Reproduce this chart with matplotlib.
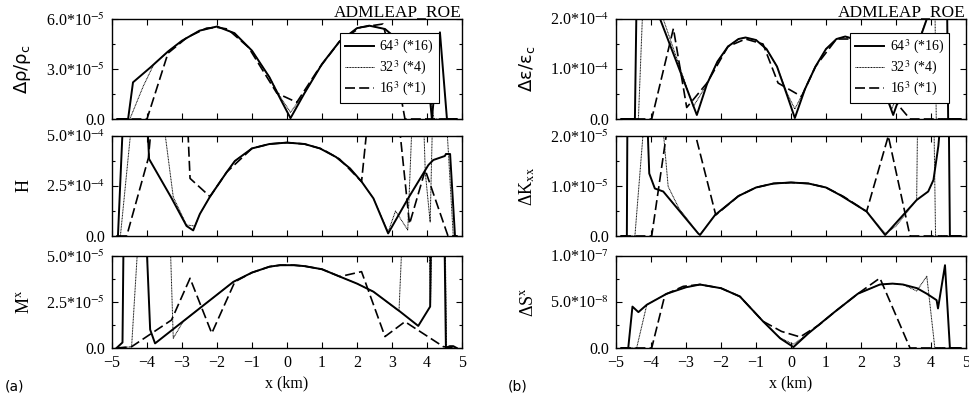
import numpy as np
import matplotlib
matplotlib.use('Agg')
import matplotlib.pyplot as plt
from matplotlib.ticker import FixedLocator

plt.rcParams['font.family'] = ['Liberation Serif', 'DejaVu Serif']
plt.rcParams['mathtext.fontset'] = 'stix'

# ---------------- data (x in km, y in panel units) ----------------
# Panel (a1): delta rho / rho_c  [1e-5]
rho64_x = [-4.85, -4.54, -4.40, -3.90, -3.40, -3.00, -2.50, -2.00, -1.50, -1.00, -0.50, -0.20, 0.10, 0.50, 1.00, 1.50, 2.00, 2.35, 2.80, 3.20, 3.60, 4.05, 4.14, 4.37, 4.57, 4.85]
rho64_y = [0, 0, 2.2, 3.1, 4.05, 4.7, 5.3, 5.55, 5.15, 4.1, 2.5, 1.25, 0.05, 1.55, 3.3, 4.65, 5.45, 5.6, 5.4, 4.7, 3.7, 2.0, 0, 5.2, 0, 0]
rho32_x = [-4.85, -4.49, -4.10, -3.80, -3.40, -3.00, -2.50, -2.00, -1.50, -1.00, -0.50, -0.20, 0.10, 0.50, 1.00, 1.50, 2.00, 2.35, 2.80, 3.20, 3.60, 4.00, 4.20, 4.85]
rho32_y = [0, 0, 2.0, 3.3, 4.05, 4.7, 5.3, 5.55, 5.15, 4.1, 2.5, 1.35, 0.4, 1.55, 3.3, 4.65, 5.45, 5.6, 5.4, 4.7, 3.7, 2.3, 0, 0]
rho16_x = [-4.85, -4.00, -3.40, -2.85, -2.30, -2.00, -1.70, -1.10, -0.29, 0.28, 0.90, 1.50, 2.10, 2.74, 3.20, 3.37, 4.85]
rho16_y = [0, 0, 3.95, 4.9, 5.45, 5.5, 5.4, 4.3, 1.55, 1.0, 3.0, 4.65, 5.5, 5.7, 2.0, 0, 0]

# Panel (a2): H  [1e-4]
h64_x = [-4.85, -4.83, -4.68, -4.00, -3.94, -3.30, -2.87, -2.68, -2.49, -2.20, -1.72, -1.49, -1.00, -0.50, 0.00, 0.50, 0.94, 1.40, 1.80, 2.13, 2.47, 2.89, 3.45, 4.04, 4.18, 4.51, 4.54, 4.66, 4.80, 4.85]
h64_y = [0, 0, 6, 6, 3.85, 1.9, 0.5, 0.28, 1.1, 1.97, 3.2, 3.75, 4.38, 4.6, 4.67, 4.6, 4.38, 3.95, 3.38, 2.72, 1.88, 0.13, 1.85, 3.55, 3.8, 4.0, 4.1, 4.1, 0, 0]
h32_x = [-4.85, -4.76, -4.42, -3.55, -3.25, -2.87, -2.63, -2.49, -2.20, -1.72, -1.49, -1.00, -0.50, 0.00, 0.50, 0.94, 1.40, 1.80, 2.13, 2.47, 2.89, 3.10, 3.45, 3.58, 3.90, 3.95, 4.09, 4.16, 4.55, 4.75, 4.85]
h32_y = [0, 0, 6, 6, 1.95, 0.55, 0.5, 1.1, 1.97, 3.2, 3.75, 4.38, 4.6, 4.67, 4.6, 4.38, 3.95, 3.38, 2.72, 1.88, 0.2, 1.25, 0.3, 6, 6, 3.2, 0.7, 6, 6, 0, 0]
h16_x = [-4.85, -4.58, -3.96, -3.85, -2.85, -2.77, -2.20, -1.72, -1.00, -0.50, 0.00, 0.50, 1.00, 1.50, 2.13, 2.32, 3.18, 3.50, 3.95, 4.60, 4.85]
h16_y = [0, 0, 3.9, 6, 6, 2.88, 1.97, 3.2, 4.38, 4.6, 4.67, 4.6, 4.35, 3.85, 2.72, 6, 6, 0.6, 3.3, 0, 0]

# Panel (a3): M^x  [1e-5]
m64_x = [-4.87, -4.70, -4.67, -4.02, -3.91, -3.77, -1.53, -1.00, -0.50, -0.20, 0.20, 0.50, 1.00, 1.51, 2.00, 2.47, 3.23, 3.75, 4.09, 4.11, 4.50, 4.54, 4.65, 4.75, 4.85]
m64_y = [0, 0.3, 6, 6, 1.0, 0.25, 3.6, 4.1, 4.42, 4.5, 4.5, 4.45, 4.28, 3.88, 3.5, 3.06, 1.98, 1.2, 2.25, 6, 6, 0, 0.1, 0.1, 0]
m32_x = [-4.87, -4.44, -4.25, -3.34, -3.25, -2.96, -1.53, -1.00, -0.50, -0.20, 0.20, 0.50, 1.00, 1.51, 2.00, 2.47, 3.20, 3.29, 4.06, 4.10, 4.14, 4.52, 4.56, 4.85]
m32_y = [0, 0.07, 6, 6, 0.53, 1.46, 3.6, 4.1, 4.42, 4.5, 4.5, 4.45, 4.28, 3.88, 3.5, 3.06, 2.0, 6, 6, 2.3, 6, 6, 0, 0]
m16_x = [-4.87, -4.44, -3.30, -2.77, -2.15, -1.49, -1.00, -0.50, -0.20, 0.20, 0.50, 1.00, 1.51, 2.13, 2.80, 3.37, 4.47, 4.85]
m16_y = [0, 0.07, 1.52, 3.79, 0.8, 3.6, 4.1, 4.42, 4.5, 4.5, 4.45, 4.28, 3.88, 4.15, 0.62, 1.43, 0.07, 0]

# Panel (b1): delta eps / eps_c  [1e-4]
e64_x = [-4.85, -4.46, -4.41, -3.80, -3.74, -2.69, -2.40, -2.10, -1.80, -1.50, -1.30, -1.00, -0.70, -0.40, -0.10, 0.11, 0.40, 0.70, 1.00, 1.30, 1.55, 1.80, 2.10, 2.40, 2.70, 2.92, 3.88, 3.95, 4.45, 4.49, 4.85]
e64_y = [0, 0, 2.5, 2.5, 2.0, 0.08, 0.7, 1.15, 1.45, 1.6, 1.63, 1.58, 1.4, 1.05, 0.45, 0.02, 0.6, 1.05, 1.4, 1.6, 1.65, 1.6, 1.4, 1.05, 0.5, 0.08, 2.0, 3.0, 3.0, 0, 0]
e32_x = [-4.85, -4.36, -4.22, -3.75, -3.70, -2.79, -2.40, -2.10, -1.80, -1.50, -1.30, -1.00, -0.70, -0.40, -0.10, 0.11, 0.40, 0.70, 1.00, 1.30, 1.55, 1.80, 2.10, 2.40, 2.70, 2.88, 3.88, 3.95, 4.10, 4.15, 4.85]
e32_y = [0, 0, 2.5, 2.5, 2.1, 0.25, 0.7, 1.15, 1.45, 1.6, 1.63, 1.58, 1.4, 1.05, 0.5, 0.2, 0.6, 1.05, 1.4, 1.6, 1.65, 1.6, 1.4, 1.05, 0.5, 0.2, 2.0, 3.0, 3.0, 0, 0]
e16_x = [-4.85, -3.98, -3.36, -2.98, -2.40, -1.80, -1.30, -0.80, -0.37, 0.30, 0.70, 1.30, 1.80, 2.30, 2.70, 3.40, 4.85]
e16_y = [0, 0, 1.81, 0.23, 0.72, 1.45, 1.6, 1.5, 0.72, 0.45, 1.05, 1.6, 1.6, 1.15, 0.58, 0, 0]

# Panel (b2): delta K_xx  [1e-5]
k64_x = [-4.85, -4.69, -4.67, -4.14, -4.05, -3.89, -3.65, -2.65, -2.60, -2.17, -1.50, -1.00, -0.50, 0.00, 0.50, 1.00, 1.40, 2.16, 2.69, 3.59, 3.92, 4.07, 4.21, 4.26, 4.50, 4.54, 4.85]
k64_y = [0, 0, 3, 3, 1.25, 0.95, 0.89, 0.05, 0.02, 0.42, 0.8, 0.97, 1.05, 1.07, 1.05, 0.97, 0.82, 0.49, 0.02, 0.72, 0.89, 1.12, 1.8, 2.2, 3, 0, 0]
k32_x = [-4.85, -4.46, -4.22, -3.65, -3.51, -3.20, -2.65, -2.60, -2.17, -1.50, -1.00, -0.50, 0.00, 0.50, 1.00, 1.40, 2.16, 2.69, 2.85, 3.00, 3.59, 3.62, 4.08, 4.13, 4.85]
k32_y = [0, 0, 2.1, 2.1, 0.99, 0.55, 0.05, 0.03, 0.42, 0.8, 0.97, 1.05, 1.07, 1.05, 0.97, 0.82, 0.49, 0.05, 0.12, 0.2, 0.72, 2.5, 2.5, 0, 0]
k16_x = [-4.85, -3.98, -3.36, -2.74, -2.15, -1.50, -1.00, -0.50, 0.00, 0.50, 1.00, 1.50, 2.16, 2.78, 3.40, 4.85]
k16_y = [0, 0, 3.0, 2.05, 0.42, 0.8, 0.97, 1.05, 1.07, 1.05, 0.97, 0.79, 0.49, 2.0, 0, 0]

# Panel (b3): delta S^x  [1e-7]
s64_x = [-4.85, -4.65, -4.53, -4.36, -4.12, -3.55, -3.00, -2.60, -2.00, -1.46, -0.80, -0.31, 0.07, 0.50, 1.24, 1.91, 2.54, 2.90, 3.20, 3.60, 3.88, 4.16, 4.20, 4.40, 4.54, 4.85]
s64_y = [0, 0, 0.45, 0.39, 0.47, 0.59, 0.66, 0.69, 0.65, 0.56, 0.29, 0.105, 0.01, 0.16, 0.39, 0.59, 0.69, 0.70, 0.69, 0.65, 0.59, 0.52, 0.43, 0.9, 0, 0]
s32_x = [-4.85, -4.41, -4.12, -3.55, -3.00, -2.60, -2.00, -1.46, -0.80, -0.31, 0.07, 0.50, 1.24, 1.91, 2.54, 2.90, 3.20, 3.59, 3.88, 4.11, 4.85]
s32_y = [0, 0, 0.47, 0.59, 0.66, 0.69, 0.65, 0.56, 0.29, 0.11, 0.04, 0.16, 0.39, 0.59, 0.69, 0.70, 0.69, 0.62, 0.78, 0, 0]
s16_x = [-4.85, -3.98, -3.60, -3.08, -2.60, -2.00, -1.46, -0.80, -0.27, 0.26, 0.80, 1.24, 1.91, 2.54, 3.40, 4.85]
s16_y = [0, 0, 0.58, 0.67, 0.69, 0.65, 0.56, 0.29, 0.18, 0.12, 0.25, 0.39, 0.59, 0.76, 0, 0]

series_labels = ['64$^{3}$ (*16)', '32$^{3}$ (*4)', '16$^{3}$ (*1)']
xticks = [-5, -4, -3, -2, -1, 0, 1, 2, 3, 4, 5]

panels = [
    # (col,row, data, scale, ymax, ticklabels, ylabel, label font, mathfamily)
    (0, 0, [(rho64_x, rho64_y), (rho32_x, rho32_y), (rho16_x, rho16_y)], 1e-5, 6.0,
     ['0.0', '3.0*10$^{-5}$', '6.0*10$^{-5}$'], 'Δρ/ρ$_{\\mathrm{c}}$', 'DejaVu Sans', 'dejavusans'),
    (0, 1, [(h64_x, h64_y), (h32_x, h32_y), (h16_x, h16_y)], 1e-4, 5.0,
     ['0.0', '2.5*10$^{-4}$', '5.0*10$^{-4}$'], 'H', 'Liberation Serif', 'stix'),
    (0, 2, [(m64_x, m64_y), (m32_x, m32_y), (m16_x, m16_y)], 1e-5, 5.0,
     ['0.0', '2.5*10$^{-5}$', '5.0*10$^{-5}$'], r'M$^{\mathrm{x}}$', 'Liberation Serif', 'stix'),
    (1, 0, [(e64_x, e64_y), (e32_x, e32_y), (e16_x, e16_y)], 1e-4, 2.0,
     ['0.0', '1.0*10$^{-4}$', '2.0*10$^{-4}$'], 'Δε/ε$_{\\mathrm{c}}$', 'DejaVu Sans', 'dejavusans'),
    (1, 1, [(k64_x, k64_y), (k32_x, k32_y), (k16_x, k16_y)], 1e-5, 2.0,
     ['0.0', '1.0*10$^{-5}$', '2.0*10$^{-5}$'], r'ΔK$_{\mathrm{xx}}$', 'Liberation Serif', 'stix'),
    (1, 2, [(s64_x, s64_y), (s32_x, s32_y), (s16_x, s16_y)], 1e-7, 1.0,
     ['0.0', '5.0*10$^{-8}$', '1.0*10$^{-7}$'], r'ΔS$^{\mathrm{x}}$', 'Liberation Serif', 'stix'),
]

W, Hh = 969, 401
cols = [(112, 462), (616, 966)]
rows = [(19, 119), (136, 236), (256, 348)]

fig = plt.figure(figsize=(9.69, 4.01), dpi=100)

styles = [dict(color='black', lw=1.4, ls='-'),
          dict(color='black', lw=0.7, ls=(0, (1, 0.6))),
          dict(color='black', lw=1.2, ls=(0, (6, 2.5)))]

for col, row, data, scale, ymax, tlabels, ylabel, lfont, mf in panels:
    l, r = cols[col]
    t, b = rows[row]
    ax = fig.add_axes([l / W, 1 - b / Hh, (r - l) / W, (b - t) / Hh])
    for (xs, ys), st, lab in zip(data, styles, series_labels):
        ax.plot(xs, np.array(ys) * scale, label=lab, **st)
    ax.set_xlim(-5, 5)
    ax.set_ylim(0, ymax * scale)
    ax.set_xticks(xticks)
    ax.set_yticks([0, ymax * scale / 2, ymax * scale])
    ax.set_yticklabels(tlabels)
    ax.yaxis.set_minor_locator(FixedLocator([ymax * scale / 4, 3 * ymax * scale / 4]))
    ax.tick_params(which='both', direction='in', top=True, right=True, width=0.8)
    ax.tick_params(which='major', length=4, labelsize=11.5, pad=5)
    ax.tick_params(which='minor', length=2.5)
    for sp in ax.spines.values():
        sp.set_linewidth(1.0)
    if row < 2:
        ax.tick_params(labelbottom=False)
    else:
        ax.set_xticklabels([str(v).replace('-', '\u2212') for v in xticks])
        ax.set_xlabel('x (km)', fontsize=11.5, labelpad=3)
    yl = ax.set_ylabel(ylabel, fontsize=13, family=lfont)
    yl.set_math_fontfamily(mf)
    ax.yaxis.set_label_coords(-0.226, 0.5)
    if row == 0:
        ax.text(1.0, 1.03, 'ADMLEAP_ROE', transform=ax.transAxes, ha='right',
                va='baseline', fontsize=12.5)
        lx = 0.651 if col == 0 else 0.669
        leg = ax.legend(loc='upper left', bbox_to_anchor=(lx, 0.86), fontsize=10,
                        frameon=True, fancybox=False, framealpha=1, edgecolor='black',
                        handlelength=2.1, labelspacing=0.2, borderpad=0.35,
                        handletextpad=0.4, borderaxespad=0)
        leg.get_frame().set_linewidth(0.8)

fig.text(5 / W, 1 - 390 / Hh, '(a)', fontsize=10, family='DejaVu Sans')
fig.text(508 / W, 1 - 390 / Hh, '(b)', fontsize=10, family='DejaVu Sans')

fig.savefig('out.png', dpi=100)
